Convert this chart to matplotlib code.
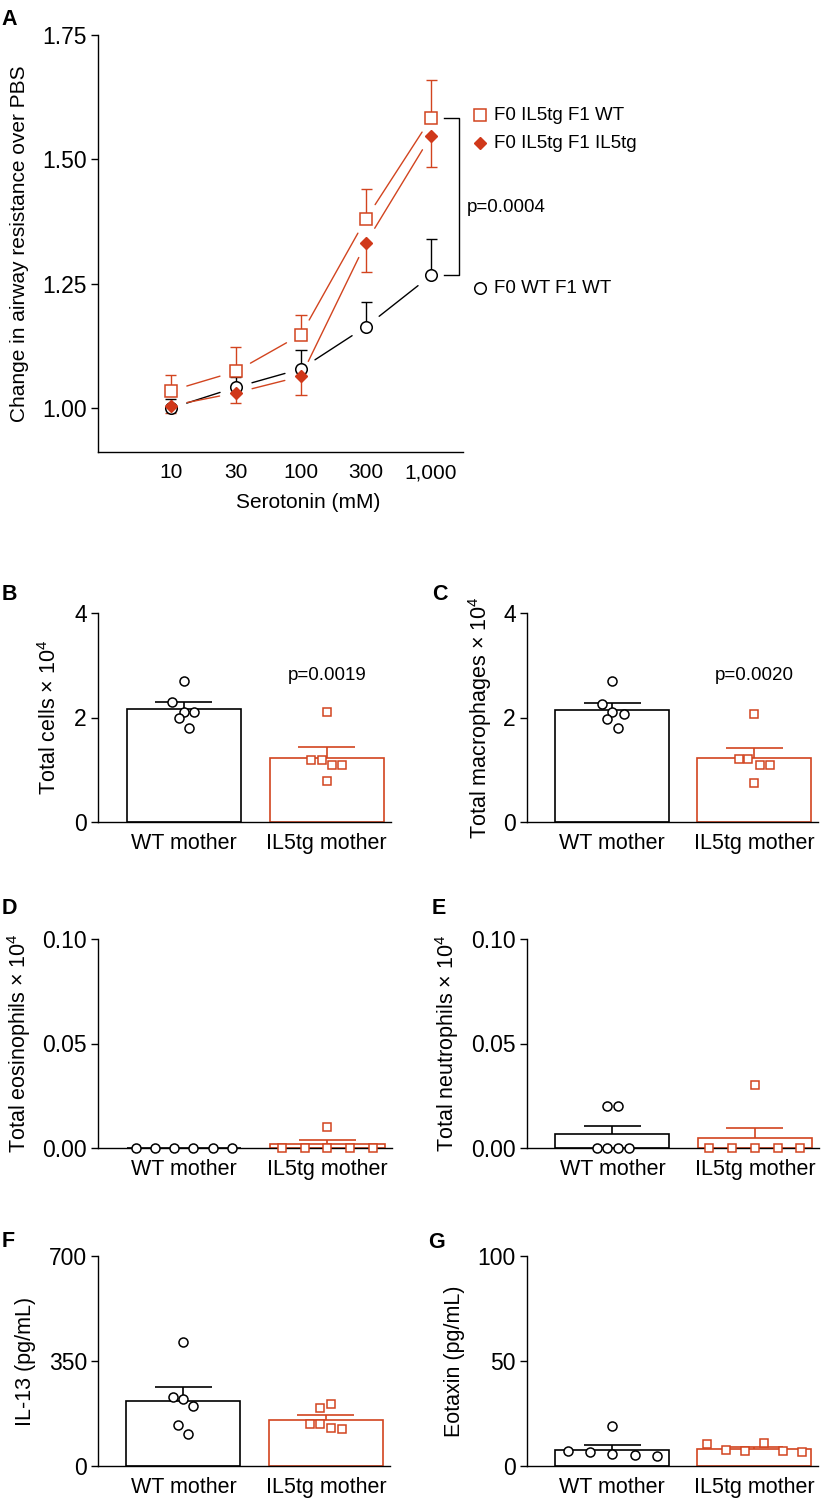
import numpy as np
import matplotlib
matplotlib.use('Agg')
import matplotlib.pyplot as plt

plt.rcParams['font.family'] = ['Liberation Sans', 'DejaVu Sans']
plt.rcParams['mathtext.default'] = 'regular'

RED = '#D2441F'
RED_DARK = '#D0381A'
W, H = 822, 1498

# ---------------- Panel A data ----------------
doses = ['10', '30', '100', '300', '1,000']
wt_mean = [1.000, 1.042, 1.079, 1.164, 1.267]
wt_err_up = [0.019, 0.020, 0.038, 0.049, 0.073]
tgwt_mean = [1.035, 1.074, 1.148, 1.381, 1.583]
tgwt_err_up = [0.032, 0.050, 0.040, 0.060, 0.077]
tgtg_mean = [1.005, 1.031, 1.064, 1.333, 1.548]
tgtg_err_dn = [0.015, 0.021, 0.037, 0.059, 0.064]
legend_labels = ['F0 IL5tg F1 WT', 'F0 IL5tg F1 IL5tg', 'F0 WT F1 WT']
pval_A = 'p=0.0004'

# ---------------- Bar panels data ----------------
groups = ['WT mother', 'IL5tg mother']

B_wt = [2.70, 2.30, 2.11, 2.10, 2.00, 1.80]
B_tg = [2.11, 1.19, 1.19, 1.10, 1.10, 0.79]
B_bar = [2.16, 1.23]
B_sem = [0.13, 0.205]

C_wt = [2.70, 2.25, 2.11, 2.06, 1.97, 1.80]
C_tg = [2.07, 1.20, 1.20, 1.10, 1.10, 0.74]
C_bar = [2.14, 1.22]
C_sem = [0.14, 0.20]

D_wt = [0, 0, 0, 0, 0, 0]
D_tg = [0.01, 0, 0, 0, 0, 0]
D_bar = [0.0, 0.0017]
D_sem = [0.0, 0.0019]

E_wt = [0.02, 0.02, 0, 0, 0, 0]
E_tg = [0.03, 0, 0, 0, 0, 0]
E_bar = [0.0067, 0.0050]
E_sem = [0.0040, 0.0047]

F_wt = [414, 230, 222, 200, 137, 108]
F_tg = [208, 193, 139, 139, 126, 122]
F_bar = [216, 153]
F_sem = [47, 17]

G_wt = [7.0, 6.8, 18.9, 5.6, 5.3, 4.6]
G_tg = [10.5, 7.8, 7.3, 10.8, 7.0, 6.8]
G_bar = [7.8, 8.3]
G_sem = [2.4, 0.6]

# horizontal scatter offsets (layout)
B_off = ([0, -0.08, 0, 0.07, -0.035, 0.035], [0, -0.11, -0.035, 0.035, 0.11, 0])
C_off = ([0, -0.07, 0, 0.08, -0.035, 0.04], [0, -0.11, -0.04, 0.04, 0.11, 0])
D_off = ([-0.336, -0.203, -0.07, 0.065, 0.2, 0.334], [0, -0.315, -0.16, 0, 0.16, 0.32])
E_off = ([-0.035, 0.036, -0.11, -0.036, 0.04, 0.115], [0, -0.32, -0.16, 0, 0.16, 0.315])
F_off = ([0, -0.075, 0, 0.07, -0.04, 0.035], [0.035, -0.04, -0.11, -0.04, 0.035, 0.11])
G_off = ([-0.31, -0.155, 0, 0, 0.164, 0.317], [-0.33, -0.2, -0.065, 0.07, 0.2, 0.34])

fig = plt.figure(figsize=(W / 100, H / 100), dpi=100)


def add_ax(l, r, t, b):
    return fig.add_axes([l / W, 1 - b / H, (r - l) / W, (b - t) / H])


def style(ax, ysize=16.5, xsize=15.5):
    for s in ['top', 'right']:
        ax.spines[s].set_visible(False)
    for s in ['left', 'bottom']:
        ax.spines[s].set_linewidth(1.0)
    ax.tick_params(axis='y', direction='out', length=5, width=1.0, labelsize=ysize, pad=3)
    ax.tick_params(axis='x', length=0, labelsize=xsize, pad=8)


# ---------------- Panel A ----------------
axA = add_ax(98, 463, 35, 452)
style(axA, ysize=16.5, xsize=15)
x = np.arange(len(doses))
axA.set_xlim(-1.12, 4.49)
axA.set_ylim(0.912, 1.75)
axA.set_yticks([1.00, 1.25, 1.50, 1.75])
axA.set_yticklabels(['1.00', '1.25', '1.50', '1.75'])
axA.set_xticks(x)
axA.set_xticklabels(doses)
axA.set_xlabel('Serotonin (mM)', fontsize=15, labelpad=8)
axA.xaxis.label.set_x(0.575)
axA.set_ylabel('Change in airway resistance over PBS', fontsize=15, va='center')
axA.yaxis.set_label_coords(-0.216, 0.5)


def seg_line(ax, xs, ys, color):
    for i in range(len(xs) - 1):
        ax.annotate('', xy=(xs[i + 1], ys[i + 1]), xytext=(xs[i], ys[i]),
                    arrowprops=dict(arrowstyle='-', color=color, lw=1.0,
                                    shrinkA=12, shrinkB=12), zorder=1)


seg_line(axA, x, wt_mean, 'black')
seg_line(axA, x, tgwt_mean, RED)
seg_line(axA, x, tgtg_mean, RED)

cw = 0.085
wt_top = np.array(wt_mean) + np.array(wt_err_up)
axA.vlines(x, wt_mean, wt_top, color='black', lw=1.0, zorder=3)
axA.hlines(wt_top, x - cw, x + cw, color='black', lw=1.0, zorder=3)
sq_top = np.array(tgwt_mean) + np.array(tgwt_err_up)
axA.vlines(x, tgwt_mean, sq_top, color=RED, lw=1.0, zorder=3)
axA.hlines(sq_top, x - cw, x + cw, color=RED, lw=1.0, zorder=3)
dm_bot = np.array(tgtg_mean) - np.array(tgtg_err_dn)
axA.vlines(x, tgtg_mean, dm_bot, color=RED, lw=1.0, zorder=3)
axA.hlines(dm_bot, x - cw, x + cw, color=RED, lw=1.0, zorder=3)

axA.plot(x, wt_mean, 'o', ms=8.3, mfc='white', mec='black', mew=1.1, ls='none', zorder=4)
axA.plot(x, tgwt_mean, 's', ms=8.0, mfc='white', mec=RED, mew=1.1, ls='none', zorder=5)
axA.plot(x, tgtg_mean, 'D', ms=6.0, mfc=RED_DARK, mec=RED_DARK, ls='none', zorder=6)

# bracket between last points
axA.plot([4.2, 4.43, 4.43, 4.2], [tgwt_mean[-1], tgwt_mean[-1], wt_mean[-1], wt_mean[-1]],
         color='black', lw=1.0, clip_on=False)
axA.text(1.011, 0.587, pval_A, transform=axA.transAxes, fontsize=13.5, va='center', ha='left')

leg_y = [0.808, 0.741, 0.393]
leg_style = [dict(marker='s', ms=8.0, mfc='white', mec=RED, mew=1.1),
             dict(marker='D', ms=6.0, mfc=RED_DARK, mec=RED_DARK),
             dict(marker='o', ms=8.3, mfc='white', mec='black', mew=1.1)]
for yy, lab, st in zip(leg_y, legend_labels, leg_style):
    axA.plot([1.047], [yy], transform=axA.transAxes, ls='none', clip_on=False, **st)
    axA.text(1.086, yy, lab, transform=axA.transAxes, fontsize=13.5, va='center', ha='left')


# ---------------- Bar panels ----------------
def bar_panel(box, wt, tg, bars, sem, offs, ylim, yticks, yticklabels, ylabel, lab_x, pval=None):
    ax = add_ax(*box)
    style(ax)
    ax.set_xlim(-0.6, 1.45)
    ax.set_ylim(*ylim)
    ax.set_yticks(yticks)
    ax.set_yticklabels(yticklabels)
    ax.set_xticks([0, 1])
    ax.set_xticklabels(groups)
    ax.set_ylabel(ylabel, fontsize=15.5, va='center')
    ax.yaxis.set_label_coords(lab_x, 0.5)
    cols = ['black', RED]
    ax.bar([0, 1], bars, width=0.8, color='white', edgecolor=cols, linewidth=1.2, zorder=2)
    for i in range(2):
        top = bars[i] + sem[i]
        if sem[i] > 0:
            ax.vlines(i, bars[i], top, color=cols[i], lw=1.2, zorder=3)
            ax.hlines(top, i - 0.2, i + 0.2, color=cols[i], lw=1.2, zorder=3)
    ax.plot(0 + np.array(offs[0]), wt, 'o', ms=6.5, mfc='white', mec='black', mew=1.1,
            ls='none', zorder=4, clip_on=False)
    ax.plot(1 + np.array(offs[1]), tg, 's', ms=6.0, mfc='white', mec=RED, mew=1.1,
            ls='none', zorder=4, clip_on=False)
    if pval:
        ax.text(1, ylim[0] + (ylim[1] - ylim[0]) * 0.70, pval, fontsize=13.5, ha='center', va='center')
    return ax


bar_panel((98, 391, 613, 822), B_wt, B_tg, B_bar, B_sem, B_off, (0, 4), [0, 2, 4], ['0', '2', '4'],
          'Total cells × 10$^4$', -0.164, 'p=0.0019')
bar_panel((527, 818, 613, 822), C_wt, C_tg, C_bar, C_sem, C_off, (0, 4), [0, 2, 4], ['0', '2', '4'],
          'Total macrophages × 10$^4$', -0.16, 'p=0.0020')
bar_panel((98, 392, 939, 1148), D_wt, D_tg, D_bar, D_sem, D_off, (0, 0.1), [0, 0.05, 0.10],
          ['0.00', '0.05', '0.10'], 'Total eosinophils × 10$^4$', -0.27)
bar_panel((527, 819, 939, 1148), E_wt, E_tg, E_bar, E_sem, E_off, (0, 0.1), [0, 0.05, 0.10],
          ['0.00', '0.05', '0.10'], 'Total neutrophils × 10$^4$', -0.274)
bar_panel((98, 390, 1256, 1466), F_wt, F_tg, F_bar, F_sem, F_off, (0, 700), [0, 350, 700],
          ['0', '350', '700'], 'IL-13 (pg/mL)', -0.247)
bar_panel((527, 818, 1256, 1466), G_wt, G_tg, G_bar, G_sem, G_off, (0, 100), [0, 50, 100],
          ['0', '50', '100'], 'Eotaxin (pg/mL)', -0.25)

# panel letters
letters = [('A', 1, 25), ('B', 2, 600), ('C', 432, 600), ('D', 2, 914), ('E', 432, 914),
           ('F', 2, 1247), ('G', 428, 1248)]
for t, px, py in letters:
    fig.text(px / W, 1 - py / H, t, fontsize=15.5, fontweight='bold', ha='left', va='baseline')

fig.savefig('out.png', dpi=100)
